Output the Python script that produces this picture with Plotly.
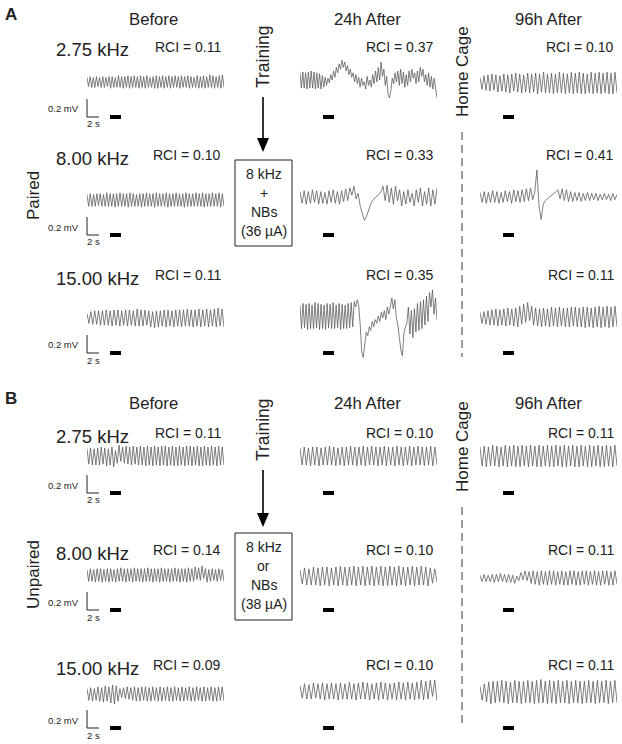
import plotly.graph_objects as go

W, H = 622, 744

# trace values, units of 0.01 mV (alternating extremes)
a_before_1 = [5,-5,6,-6,5,-6,6,-5,5,-6,6,-6,5,-5,6,-7,6,-6,5,-6,7,-6,6,-7,6,-6,7,-7,6,-6,7,-6,6,-7,7,-6,6,-7,7,-6,5,-6,6,-7,7,-7,6,-6,7,-7,6,-6,7,-7,6,-6,7,-6,6,-7,7,-6,6,-6,7,-7,6,-6,5,-6,7,-7,6,-6,7,-7,6,-6,8,-6,7,-7,6,-6,7,-7,8,-6]
a_24h_1 = [8,-9,9,-9,8,-10,9,-9,10,-9,9,-10,8,-9,7,-10,5,-8,3,-6,2,-3,6,0,10,3,14,8,18,12,22,14,20,10,16,6,12,3,8,-2,6,-4,3,-8,2,-6,-2,-10,4,-6,0,-8,6,-4,10,-2,14,0,20,4,12,-6,4,-16,-20,-12,2,-4,8,-2,10,-6,12,-4,9,-8,6,-6,10,-2,12,2,8,-4,10,-2,14,4,12,-2,6,-6,8,-8,4,-10,2,-12,-20]
a_96h_1 = [6,-7,8,-8,9,-9,10,-8,9,-10,8,-9,10,-10,9,-11,10,-9,11,-10,10,-11,9,-10,11,-11,10,-10,11,-12,10,-10,12,-11,10,-11,11,-12,10,-11,12,-11,11,-12,10,-11,12,-12,11,-11,12,-12,11,-12,10,-11,12,-12,11,-11,12,-12,11,-11,12,-12,11,-12,12,-11]

a_before_2 = [6,-7,7,-7,6,-7,7,-6,7,-7,6,-7,8,-7,7,-7,7,-8,7,-7,8,-7,7,-7,7,-8,8,-7,7,-7,6,-7,7,-8,7,-7,8,-7,7,-7,7,-8,8,-7,7,-7,7,-7,8,-8,7,-7,7,-7,8,-7,7,-7,7,-8,8,-7,7,-7,7,-7,8,-7,7,-7,8,-8,7,-7,7,-7,8,-7,7,-7,8,-8,7,-7]
a_24h_2 = [6,-7,7,-8,6,-7,8,-6,7,-8,6,-7,5,-8,7,-6,8,-7,6,-8,7,-5,9,-4,10,2,12,-2,4,-10,-18,-26,-22,-14,-8,-4,-1,1,3,6,12,-4,13,-6,10,-8,12,-4,8,-10,6,-8,8,-6,4,-10,8,-6,10,-10,6,-8,10,-10,8,-8,10]
a_96h_2 = [5,-6,6,-7,5,-6,7,-6,6,-7,5,-6,7,-5,6,-7,8,-5,7,-6,8,-5,9,-4,10,-3,6,30,-10,-25,-8,-4,-2,0,2,4,6,8,-2,9,-4,8,-5,6,-5,5,-4,5,-5,4,-4,5,-4,4,-3,4,-4,3,-3,4,-3,3,-4,4,-3,3]

a_before_3 = [5,-6,7,-7,8,-7,8,-8,8,-8,9,-8,8,-9,9,-8,9,-9,8,-8,9,-9,9,-8,8,-9,10,-9,9,-9,9,-8,8,-10,7,-11,8,-10,8,-9,9,-10,9,-9,8,-10,9,-9,9,-10,9,-9,10,-9,9,-10,9,-9,10,-10,9,-9,10,-10,9,-9,10,-10,11,-9,10,-10]
a_24h_3 = [12,-14,14,-13,13,-15,14,-14,12,-14,15,-13,14,-15,13,-14,12,-15,14,-13,13,-14,15,-14,12,-13,14,-15,13,-14,12,-14,14,-13,15,-12,16,10,18,12,-10,-40,-46,-30,-18,-22,-12,-16,-6,-12,-4,-8,0,-6,4,-2,6,-4,10,2,14,20,8,18,-2,-10,-24,-38,-44,-20,-12,-8,10,-20,6,-24,8,-18,14,-16,16,-14,18,-10,22,-6,26,10,29,2,20,-4]
a_96h_3 = [5,-7,6,-8,7,-9,8,-9,9,-10,8,-9,9,-10,10,-9,9,-10,10,-11,12,-8,14,-6,16,-4,12,-9,10,-10,9,-11,10,-10,9,-11,11,-10,10,-11,11,-10,10,-11,10,-11,11,-10,11,-11,10,-11,11,-12,11,-11,10,-12,11,-11,12,-12,11,-11,12,-12,11,-11,12,-11]

b_before_1 = [8,-9,9,-10,8,-10,9,-10,10,-9,9,-11,8,-10,10,-12,6,-8,12,-6,10,-8,11,-9,10,-10,11,-9,10,-10,11,-10,10,-11,11,-10,10,-11,11,-10,10,-11,11,-10,11,-11,10,-10,11,-11,10,-11,11,-10,10,-11,11,-10,11,-11,10,-10,11,-11,10,-11,11,-10,10,-11,11,-10,10,-11,11,-10,10,-10]
b_24h_1 = [9,-10,10,-10,9,-11,10,-10,10,-11,9,-10,10,-10,11,-10,10,-11,9,-10,10,-11,10,-10,11,-10,10,-11,10,-10,11,-11,10,-10,11,-10,10,-11,10,-10,11,-11,10,-10,10,-11,11,-10,10,-11,10,-10,11,-11,10,-10,11,-10,10,-11,10,-10,11,-11,10,-10]
b_96h_1 = [10,-11,11,-12,10,-11,12,-11,11,-12,10,-11,12,-12,11,-11,12,-12,11,-12,12,-11,11,-12,12,-11,11,-12,12,-12,11,-11,12,-12,11,-12,12,-11,11,-12,12,-12,11,-11,12,-12,11,-12,12,-11,11,-12,12,-12,11,-11,12,-12,11,-12,12,-11,11,-12,12,-11]

b_before_2 = [6,-7,7,-7,6,-8,7,-7,7,-8,6,-7,7,-8,7,-7,6,-8,7,-7,8,-7,7,-8,7,-7,7,-8,8,-7,7,-7,7,-8,7,-7,8,-7,7,-8,7,-7,7,-8,8,-7,7,-7,7,-8,7,-7,8,-7,7,-8,7,-7,7,-8,8,-7,7,-7,9,-5,8,-6,10,-4,7,-8,6,-7,7,-6,6,-7,7,-6,6,-7]
b_24h_2 = [7,-9,9,-10,8,-10,10,-10,9,-11,10,-10,10,-11,9,-10,10,-11,11,-10,10,-11,10,-10,11,-11,10,-10,11,-11,10,-10,11,-11,10,-10,11,-11,10,-11,11,-10,10,-11,11,-10,10,-11,10,-10,11,-11,10,-10,11,-10,10,-11,9,-8,8,-7]
b_96h_2 = [3,-4,4,-4,3,-4,4,-5,4,-4,5,-4,4,-5,4,-5,3,-6,2,-3,6,-2,8,-3,7,-6,8,-7,7,-8,8,-7,7,-8,8,-7,8,-8,7,-7,8,-8,7,-8,8,-7,8,-8,7,-8,8,-7,8,-8,7,-7,8,-8,7,-8,8,-7,8,-8,7,-8,8,-7]

b_before_3 = [6,-7,7,-8,6,-7,8,-8,7,-9,9,-8,8,-10,10,-11,9,-8,6,-4,7,-5,8,-6,7,-7,8,-8,7,-8,8,-7,8,-8,7,-8,8,-7,7,-8,8,-8,7,-7,8,-8,7,-8,8,-7,7,-8,8,-8,7,-7,8,-8,7,-8,8,-7,7,-8,8,-8,7,-7,8,-8,7,-8,8,-7,8,-8]
b_24h_3 = [6,-8,8,-9,7,-9,9,-8,8,-9,9,-10,8,-9,9,-9,8,-10,9,-9,8,-9,10,-9,8,-10,9,-9,10,-9,9,-10,8,-9,9,-10,10,-9,9,-10,8,-9,9,-10,10,-9,9,-10,10,-9,9,-10,10,-9,12,-10,11,-9,12,-6,12,-11]
b_96h_3 = [6,-9,9,-11,11,-13,12,-12,12,-11,13,-12,12,-13,11,-12,13,-12,12,-13,12,-12,13,-12,12,-13,13,-12,14,-12,12,-13,13,-12,12,-13,13,-12,12,-12,13,-13,12,-12,13,-12,12,-13,12,-12,13,-12,12,-13,13,-12,12,-12,13,-13,12,-12,13,-12]

freq_labels = ["2.75 kHz", "8.00 kHz", "15.00 kHz"]
columns = ["Before", "24h After", "96h After"]
rci_a = [["0.11", "0.37", "0.10"], ["0.10", "0.33", "0.41"], ["0.11", "0.35", "0.11"]]
rci_b = [["0.11", "0.10", "0.11"], ["0.14", "0.10", "0.11"], ["0.09", "0.10", "0.11"]]

traces_a = [[a_before_1, a_24h_1, a_96h_1], [a_before_2, a_24h_2, a_96h_2], [a_before_3, a_24h_3, a_96h_3]]
traces_b = [[b_before_1, b_24h_1, b_96h_1], [b_before_2, b_24h_2, b_96h_2], [b_before_3, b_24h_3, b_96h_3]]

# layout in pixels
col_x = [(87, 224), (300, 437), (480, 617)]
col_mid = [153, 367, 548]
PX_PER_UNIT = 0.9  # 0.2 mV = 18 px

FONT = "Liberation Sans, Arial, sans-serif"
INK = "#222"
TRACE = "#555"


def px(x):
    return x / W


def py(y):
    return 1 - y / H


fig = go.Figure()
layout = {}
annotations = []
shapes = []


def text(x, y, s, size, xanchor="center", angle=0, bold=False):
    annotations.append(dict(
        x=px(x), y=py(y), xref="paper", yref="paper", text=f"<b>{s}</b>" if bold else s,
        showarrow=False, xanchor=xanchor, yanchor="middle", textangle=angle,
        font=dict(family=FONT, size=size, color=INK)))


def line(x0, y0, x1, y1, width=1, color=INK, dash=None):
    shapes.append(dict(type="line", xref="paper", yref="paper", x0=px(x0), y0=py(y0),
                       x1=px(x1), y1=py(y1), line=dict(color=color, width=width, dash=dash)))


ax_n = [0]


def add_trace(vals, col, center, half):
    ax_n[0] += 1
    i = ax_n[0]
    xs = list(range(len(vals)))
    fig.add_trace(go.Scatter(x=xs, y=vals, mode="lines", line=dict(color=TRACE, width=0.75),
                             hoverinfo="skip", showlegend=False,
                             xaxis=f"x{i}", yaxis=f"y{i}"))
    x0, x1 = col_x[col]
    layout[f"xaxis{i}"] = dict(domain=[px(x0), px(x1)], range=[0, len(vals) - 1], visible=False,
                               fixedrange=True, anchor=f"y{i}")
    layout[f"yaxis{i}"] = dict(domain=[py(center + half), py(center - half)],
                               range=[-half / PX_PER_UNIT, half / PX_PER_UNIT], visible=False,
                               fixedrange=True, anchor=f"x{i}")


def panel(letter, top, traces, rci, rows, group, group_y):
    text(11, top + 15, letter, 17, bold=True)
    for c in range(3):
        text(col_mid[c], top + 20, columns[c], 16.7)
    for r, row in enumerate(rows):
        lab_y, centers, scale_top = row
        text(54, lab_y + 3, freq_labels[r], 18.5, xanchor="left")
        for c in range(3):
            text(col_x[c][1] - 1, lab_y, "RCI = " + rci[r][c], 14, xanchor="right")
            add_trace(traces[r][c], c, centers[c], 55 if letter == "A" else 44)
        # scale bar
        sb = scale_top + 18
        line(87, scale_top, 87, sb, width=1)
        line(87, sb, 99, sb, width=1)
        text(81, scale_top + 10, "0.2 mV", 9.5, xanchor="right")
        text(93, sb + 7, "2 s", 9.5)
        for bx in (110, 323, 503):
            shapes.append(dict(type="rect", xref="paper", yref="paper", x0=px(bx), x1=px(bx + 11),
                               y0=py(sb - 2), y1=py(sb + 2), fillcolor="black", line=dict(width=0)))
    text(33, group_y, group, 17, angle=-90)


rows_a = [(47, (82, 80, 83), 99), (155, (200, 197, 197), 217), (275, (318, 316, 317), 335)]
rows_b = [(433, (456, 456, 456), 475), (550, (575, 576, 578), 592), (665, (694, 691, 692), 710)]

panel("A", 0, traces_a, rci_a, rows_a, "Paired", 196)
panel("B", 383, traces_b, rci_b, rows_b, "Unpaired", 575)

# Training arrows and boxes
for t_top, a_top, a_tip, box, box_txt in [
        (57, 97, 152, (235, 160, 292, 246), ["8 kHz", "+", "NBs", "(36 µA)"]),
        (430, 470, 527, (235, 533, 292, 620), ["8 kHz", "or", "NBs", "(38 µA)"])]:
    text(263, t_top, "Training", 17.5, angle=-90)
    line(263, a_top, 263, a_tip - 12, width=1.6, color="black")
    shapes.append(dict(type="path", xref="paper", yref="paper",
                       path=f"M {px(257)} {py(a_tip - 14)} L {px(269)} {py(a_tip - 14)} L {px(263)} {py(a_tip)} Z",
                       fillcolor="black", line=dict(width=0)))
    bx0, by0, bx1, by1 = box
    shapes.append(dict(type="rect", xref="paper", yref="paper", x0=px(bx0), x1=px(bx1),
                       y0=py(by1), y1=py(by0), line=dict(color=INK, width=1)))
    for k, s in enumerate(box_txt):
        text((bx0 + bx1) / 2, by0 + 14 + k * 19, s, 14)

# Home cage labels and dashed separators
for hc_y, d0, d1 in [(72, 132, 357), (447, 507, 727)]:
    text(462, hc_y, "Home Cage", 17, angle=-90)
    line(462, d0, 462, d1, width=1.3, color="#666", dash="8px,5px")

layout.update(dict(width=W, height=H, margin=dict(l=0, r=0, t=0, b=0),
                   paper_bgcolor="white", plot_bgcolor="white",
                   xaxis=dict(visible=False), yaxis=dict(visible=False),
                   annotations=annotations, shapes=shapes, showlegend=False))
fig.update_layout(**layout)
fig.write_html("out.html", config={"displayModeBar": False},
               post_script="document.body.style.margin='0px';")
